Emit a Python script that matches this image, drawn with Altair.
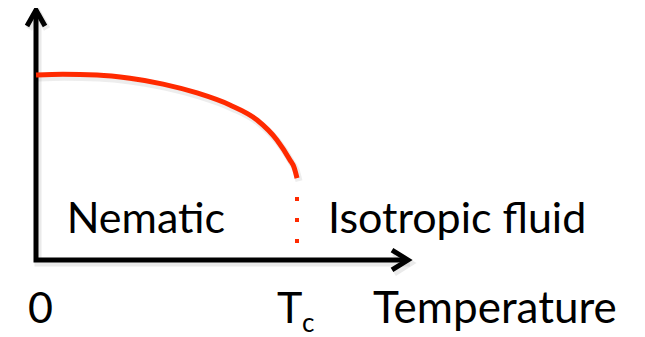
import altair as alt
import pandas as pd

# Order parameter curve (T in units of Tc)
temperature = [0.0, 0.103, 0.234, 0.360, 0.487, 0.617, 0.743, 0.847, 0.923, 0.973, 0.989, 1.0]
order_param = [1.0, 1.004, 1.0, 0.982, 0.951, 0.903, 0.838, 0.757, 0.649, 0.541, 0.50, 0.443]

# dotted transition line at Tc
tc = 1.0
dotted_top = 0.3405
dotted_bottom = 0.092

# axis arrows (polyline vertices)
axis_T = [0.0, 0.0, 1.425]
axis_S = [1.351, 0.0, 0.0]
ychev_T = [-0.0345, 0.0, 0.0345]
ychev_S = [1.265, 1.351, 1.265]
xchev_T = [1.364, 1.425, 1.364]
xchev_S = [0.054, 0.0, -0.054]

# labels
labels = ["Nematic", "Isotropic fluid", "0", "T", "c", "Temperature"]
label_T = [0.1176, 1.1188, 0.0172, 0.9234, 1.019, 1.291]
label_S = [0.146, 0.146, -0.3405, -0.3405, -0.389, -0.3405]
label_size = [43, 43, 43, 43, 26, 44]
label_align = ["left", "left", "center", "left", "left", "left"]

xs = alt.Scale(domain=[-0.10728, 2.30268], nice=False, zero=False)
ys = alt.Scale(domain=[-0.373, 1.3622], nice=False, zero=False)

curve_df = pd.DataFrame({"T": temperature, "S": order_param})
dot_df = pd.DataFrame({"T": [tc], "S": [dotted_top], "S2": [dotted_bottom]})

rows = []
for name, tt, ss in [("axis", axis_T, axis_S), ("ychev", ychev_T, ychev_S), ("xchev", xchev_T, xchev_S)]:
    for i, (a, b) in enumerate(zip(tt, ss)):
        rows.append({"part": name, "i": i, "T": a, "S": b})
axes_df = pd.DataFrame(rows)

lab_df = pd.DataFrame({"label": labels, "T": label_T, "S": label_S,
                       "size": label_size, "align": label_align})

X = lambda: alt.X("T:Q", scale=xs, axis=None)
Y = lambda: alt.Y("S:Q", scale=ys, axis=None)

axes_shadow = alt.Chart(axes_df).mark_line(
    color="#888888", opacity=0.18, strokeWidth=7, strokeJoin="miter",
    strokeCap="butt", xOffset=2, yOffset=3
).encode(x=X(), y=Y(), detail="part:N", order=alt.Order("i:Q"))

axes_layer = alt.Chart(axes_df).mark_line(
    color="black", strokeWidth=5, strokeJoin="miter", strokeCap="butt"
).encode(x=X(), y=Y(), detail="part:N", order=alt.Order("i:Q"))

curve_shadow = alt.Chart(curve_df).mark_line(
    color="#888888", opacity=0.15, strokeWidth=7, interpolate="monotone",
    strokeCap="butt", xOffset=2, yOffset=3
).encode(x=X(), y=Y())

curve = alt.Chart(curve_df).mark_line(
    color="#ff2a00", strokeWidth=5, interpolate="monotone", strokeCap="butt"
).encode(x=X(), y=Y())

dots = alt.Chart(dot_df).mark_rule(
    color="#ff2a00", strokeWidth=4, strokeDash=[4, 17], strokeCap="butt"
).encode(x=X(), y=Y(), y2="S2:Q")

def text_layer(align):
    return alt.Chart(lab_df[lab_df["align"] == align]).mark_text(
        align=align, baseline="alphabetic", font="Lato", color="black"
    ).encode(x=X(), y=Y(), text="label:N", size=alt.Size("size:Q", scale=None, legend=None))

chart = alt.layer(
    axes_shadow, curve_shadow, axes_layer, curve, dots,
    text_layer("left"), text_layer("center")
).properties(
    width=629, height=321,
    padding={"left": 0, "top": 0, "right": 0, "bottom": 8},
    autosize=alt.AutoSizeParams(type="none"),
).configure_view(stroke=None)

chart.save("out.html", embed_options={"renderer": "svg", "actions": False})
